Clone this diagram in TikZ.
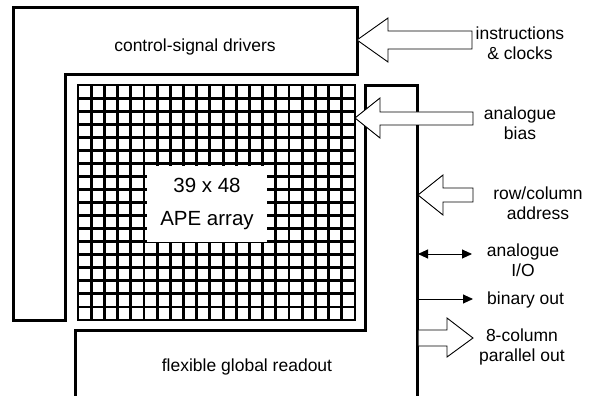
\documentclass[tikz,border=0pt]{standalone}
\usepackage{fontspec}
\setmainfont{Liberation Sans}
\usetikzlibrary{arrows.meta}

\begin{document}
\begin{tikzpicture}[
  x=1pt,y=-1pt,
  >={Triangle[length=10pt,width=9pt]},
  every node/.style={font=\fontsize{17.5}{20.5}\selectfont,align=center,inner sep=0pt},
  block/.style={line width=3pt,line join=miter},
  cell/.style={line width=2.9pt,line cap=rect},
  fat/.style={line width=0.9pt,fill=white,line join=miter},
  thin/.style={line width=0.9pt}
]
\useasboundingbox (0,0) rectangle (590,396);

% control-signal drivers
\draw[block] (13,8)--(357,8)--(357,75)--(65,75)--(65,320)--(13,320)--cycle;
\node (drivers) at (195,47) {control-signal drivers};

% APE array: 21 x 18 cells
\foreach \i in {0,...,21}
  \draw[cell] ({78+\i*13.19},85)--({78+\i*13.19},320);
\foreach \j in {0,...,18}
  \draw[cell] (78,{85+\j*13.056})--(355,{85+\j*13.056});
\node[fill=white,minimum width=120,minimum height=75,
      font=\fontsize{20.5}{33}\selectfont] (ape) at (207,204) {39 x 48\\APE array};

% flexible global readout
\draw[block] (75,396)--(75,330)--(365,330)--(365,86)--(417,86)--(417,396);
\node (readout) at (247,367) {flexible global readout};

% inputs
\draw[fat] (357,40)--(388,18)--(388,31)--(472,31)--(472,49)--(388,49)--(388,62)--cycle;
\node (instr) at (520,43) {instructions\\\& clocks};

\draw[fat] (355,118)--(380,98)--(380,112)--(473,112)--(473,125)--(380,125)--(380,138)--cycle;
\node (bias) at (520,123) {analogue\\bias};

\draw[fat] (418,195)--(443,175)--(443,188)--(473,188)--(473,202)--(443,202)--(443,215)--cycle;
\node (addr) at (538,203) {row/column\\address};

% outputs
\coordinate (ioL) at (418,254);
\coordinate (ioR) at (472,254);
\draw[thin,<->] (ioL)--(ioR);
\node (io) at (523,260) {analogue\\I/O};

\coordinate (binL) at (418,299);
\coordinate (binR) at (473,299);
\draw[thin,->] (binL)--(binR);
\node[anchor=west] (bin) at (487,300) {binary out};

\fill[white] (418.6,330)--(447,330)--(447,318)--(473,338)--(447,357)--(447,346)--(418.6,346)--cycle;
\draw[thin,line join=miter] (418,330)--(447,330)--(447,318)--(473,338)--(447,357)--(447,346)--(418,346);
\node (par) at (522,347) {8-column\\parallel out};

\end{tikzpicture}
\end{document}
